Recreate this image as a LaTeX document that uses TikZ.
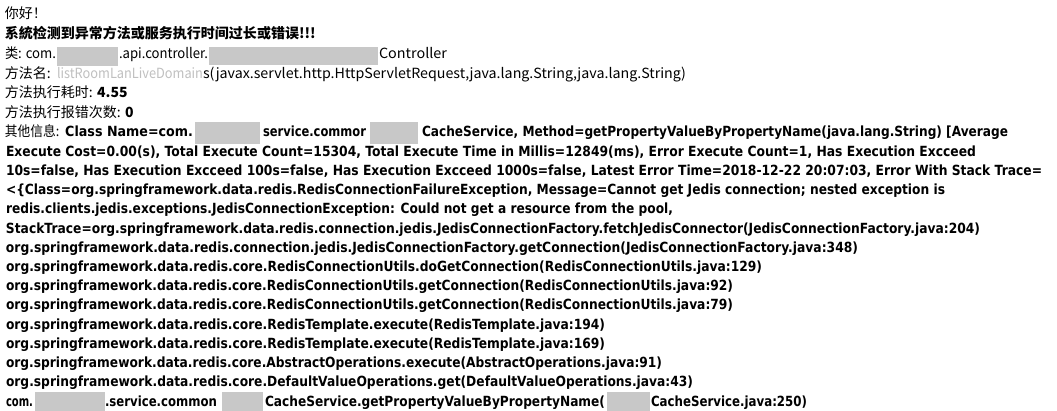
\documentclass[tikz,border=0pt]{standalone}
\usepackage{fontspec}
\usepackage{graphicx}
\newfontfamily\cjk{Noto Sans CJK SC}
\newfontfamily\bodyfont{DejaVu Sans}
\definecolor{blurgray}{RGB}{200,200,200}
\definecolor{blurtext}{RGB}{192,192,192}
\tikzset{
  txt/.style={anchor=base west, inner sep=0pt, outer sep=0pt},
  topline/.style={txt, font=\cjk\fontsize{14pt}{16pt}\selectfont},
  bodyline/.style={txt, font=\bodyfont\bfseries\fontsize{14pt}{16pt}\selectfont},
  blurbox/.style={fill=blurgray, draw=none, inner sep=0pt, outer sep=0pt}
}
% name, x, width, baseline, style, text
\newcommand{\seg}[6]{%
  \node[#5] (#1) at (#2pt,-#4pt) {\resizebox{#3pt}{\height}{#6}};}
\newcommand{\blur}[5]{% name x1 y1 x2 y2
  \path[blurbox] (#2pt,-#3pt) rectangle (#4pt,-#5pt) coordinate (#1);}
\begin{document}
\begin{tikzpicture}
\useasboundingbox[fill=white] (0,0) rectangle (1057pt,-411pt);
% top lines
\node[topline] (l1) at (5pt,-19pt) {你好！};
\node[topline] (l2) at (5pt,-39pt) {\bfseries 系統检测到异常方法或服务执行时间过长或错误!!!};
\seg{l3a}{5}{51}{59}{topline}{类: com.}
\blur{b1}{57}{47}{118}{66}
\seg{l3b}{119}{89}{59}{topline}{.api.controller.}
\blur{b2}{209}{47}{378}{65}
\seg{l3c}{379}{68}{59}{topline}{Controller}
\node[topline] (l4a) at (5pt,-78.5pt) {方法名:};
\seg{l4b}{57}{146}{78.5}{topline, text=blurtext}{listRoomLanLiveDomain}
\seg{l4c}{203}{483}{78.5}{topline}{s(javax.servlet.http.HttpServletRequest,java.lang.String,java.lang.String)}
\node[topline] (l5) at (5pt,-98pt) {方法执行耗时: \bfseries 4.55};
\node[topline] (l6) at (5pt,-118pt) {方法执行报错次数: \bfseries 0};
% body lines
\seg{l7a}{5}{188}{137}{bodyline}{{\cjk\mdseries 其他信息:} Class Name=com.}
\blur{b3}{195}{122}{260}{144}
\seg{l7b}{263}{103}{137}{bodyline}{service.commor}
\blur{b4}{370}{122}{418}{144}
\seg{l7c}{422}{586}{137}{bodyline}{CacheService, Method=getPropertyValueByPropertyName(java.lang.String) [Average}
\seg{l8}{6}{970}{156.2}{bodyline}{Execute Cost=0.00(s), Total Execute Count=15304, Total Execute Time in Millis=12849(ms), Error Execute Count=1, Has Execution Excceed}
\seg{l9}{6}{1036}{175.4}{bodyline}{10s=false, Has Execution Excceed 100s=false, Has Execution Excceed 1000s=false, Latest Error Time=2018-12-22 20:07:03, Error With Stack Trace=}
\seg{l10}{6}{939}{194.6}{bodyline}{<\{Class=org.springframework.data.redis.RedisConnectionFailureException, Message=Cannot get Jedis connection; nested exception is}
\seg{l11}{6}{667}{213.8}{bodyline}{redis.clients.jedis.exceptions.JedisConnectionException: Could not get a resource from the pool,}
\seg{l12}{6}{974}{233.1}{bodyline}{StackTrace=org.springframework.data.redis.connection.jedis.JedisConnectionFactory.fetchJedisConnector(JedisConnectionFactory.java:204)}
\seg{l13}{6}{852}{252.3}{bodyline}{org.springframework.data.redis.connection.jedis.JedisConnectionFactory.getConnection(JedisConnectionFactory.java:348)}
\seg{l14}{6}{756}{271.5}{bodyline}{org.springframework.data.redis.core.RedisConnectionUtils.doGetConnection(RedisConnectionUtils.java:129)}
\seg{l15}{6}{727}{290.7}{bodyline}{org.springframework.data.redis.core.RedisConnectionUtils.getConnection(RedisConnectionUtils.java:92)}
\seg{l16}{6}{727}{309.9}{bodyline}{org.springframework.data.redis.core.RedisConnectionUtils.getConnection(RedisConnectionUtils.java:79)}
\seg{l17}{6}{599}{329.1}{bodyline}{org.springframework.data.redis.core.RedisTemplate.execute(RedisTemplate.java:194)}
\seg{l18}{6}{599}{348.3}{bodyline}{org.springframework.data.redis.core.RedisTemplate.execute(RedisTemplate.java:169)}
\seg{l19}{6}{656}{367.6}{bodyline}{org.springframework.data.redis.core.AbstractOperations.execute(AbstractOperations.java:91)}
\seg{l20}{6}{687}{386.8}{bodyline}{org.springframework.data.redis.core.DefaultValueOperations.get(DefaultValueOperations.java:43)}
\seg{l21a}{6}{27}{406}{bodyline}{com.}
\blur{b5}{35}{392}{105}{411}
\seg{l21b}{105}{112}{406}{bodyline}{.service.common}
\blur{b6}{222}{392}{263}{411}
\seg{l21c}{265}{340}{406}{bodyline}{CacheService.getPropertyValueByPropertyName(}
\blur{b7}{607}{392}{650}{411}
\seg{l21d}{651}{156}{406}{bodyline}{CacheService.java:250)}
\end{tikzpicture}
\end{document}
